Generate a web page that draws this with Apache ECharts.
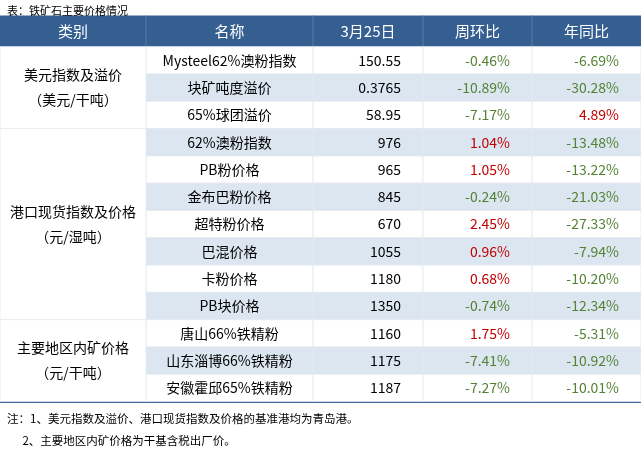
<!DOCTYPE html>
<html><head><meta charset="utf-8">
<script src="https://cdn.jsdelivr.net/npm/echarts@6/dist/echarts.min.js"></script>
<style>html,body{margin:0;padding:0;background:#fff}#main{width:641px;height:451px}</style>
</head><body><div id="main"></div>
<script>
// 表格数据
var headers = ["类别", "名称", "3月25日", "周环比", "年同比"];
var names = ["Mysteel62%澳粉指数", "块矿吨度溢价", "65%球团溢价", "62%澳粉指数", "PB粉价格", "金布巴粉价格",
  "超特粉价格", "巴混价格", "卡粉价格", "PB块价格", "唐山66%铁精粉", "山东淄博66%铁精粉", "安徽霍邱65%铁精粉"];
var prices = ["150.55", "0.3765", "58.95", "976", "965", "845", "670", "1055", "1180", "1350", "1160", "1175", "1187"];
var weekly = [-0.46, -10.89, -7.17, 1.04, 1.05, -0.24, 2.45, 0.96, 0.68, -0.74, 1.75, -7.41, -7.27];
var yearly = [-6.69, -30.28, 4.89, -13.48, -13.22, -21.03, -27.33, -7.94, -10.20, -12.34, -5.31, -10.92, -10.01];
var groups = [
  { label: "美元指数及溢价\n（美元/干吨）", from: 0, to: 2 },
  { label: "港口现货指数及价格\n（元/湿吨）", from: 3, to: 9 },
  { label: "主要地区内矿价格\n（元/干吨）", from: 10, to: 12 }
];
var notes = "注：1、美元指数及溢价、港口现货指数及价格的基准港均为青岛港。\n      2、主要地区内矿价格为干基含税出厂价。";

var colEdges = [0, 146, 313, 423, 532, 641];
var rowIdx = names.map(function (_, i) { return i; });
var FONT = '"Noto Sans CJK SC", "Noto Sans", sans-serif';
var RED = '#c00000', GREEN = '#548235', BLUE = '#355f91', SHADE = '#dce6f1', LINE = '#e3e8ef';

const chart = echarts.init(document.getElementById("main"));

function pct(v) { return v.toFixed(2) + '%'; }

// 每行单元格
var cells = [];
rowIdx.forEach(function (r) {
  cells.push([r, 1, names[r], 'center', '#000']);
  cells.push([r, 2, prices[r], 'right', '#000']);
  cells.push([r, 3, pct(weekly[r]), 'right', weekly[r] > 0 ? RED : GREEN]);
  cells.push([r, 4, pct(yearly[r]), 'right', yearly[r] > 0 ? RED : GREEN]);
});

function renderCell(params, api) {
  var r = api.value(0), c = api.value(1);
  var p0 = api.coord([colEdges[c], r]);
  var p1 = api.coord([colEdges[c + 1], r]);
  var h = api.size([0, 1])[1];
  var y = p0[1] - h / 2;
  var d = cells[params.dataIndex];
  var align = d[3];
  var tx = align === 'center' ? (p0[0] + p1[0]) / 2 : p1[0] - 22;
  return {
    type: 'group',
    children: [
      { type: 'rect', shape: { x: p0[0], y: y, width: p1[0] - p0[0], height: h },
        style: { fill: r % 2 === 1 ? SHADE : '#fff', stroke: LINE, lineWidth: 0.8 } },
      { type: 'text', style: { x: tx, y: p0[1], text: d[2], fill: d[4], font: '14px ' + FONT,
        textAlign: align, textVerticalAlign: 'middle' } }
    ]
  };
}

function renderGroup(params, api) {
  var g = groups[params.dataIndex];
  var a = api.coord([colEdges[0], g.from]);
  var b = api.coord([colEdges[1], g.to]);
  var h = api.size([0, 1])[1];
  var top = a[1] - h / 2, bot = b[1] + h / 2;
  return {
    type: 'group',
    children: [
      { type: 'rect', shape: { x: a[0], y: top, width: b[0] - a[0], height: bot - top },
        style: { fill: '#fff', stroke: LINE, lineWidth: 0.8 } },
      { type: 'text', style: { x: (a[0] + b[0]) / 2, y: (top + bot) / 2, text: g.label, fill: '#000',
        font: '14px ' + FONT, textAlign: 'center', textVerticalAlign: 'middle', lineHeight: 25 } }
    ]
  };
}

var headerEls = [{ type: 'rect', shape: { x: 0, y: 15.5, width: 641, height: 31.2 }, style: { fill: BLUE } }];
headers.forEach(function (t, i) {
  headerEls.push({ type: 'text', style: { x: (colEdges[i] + colEdges[i + 1]) / 2, y: 31, text: t, fill: '#fff',
    font: '15px ' + FONT, textAlign: 'center', textVerticalAlign: 'middle' } });
  if (i > 0) headerEls.push({ type: 'line', shape: { x1: colEdges[i], y1: 15.5, x2: colEdges[i], y2: 46.7 },
    style: { stroke: '#5a7ba5', lineWidth: 1 } });
});
headerEls.push({ type: 'rect', shape: { x: 0, y: 400.5, width: 641, height: 2.5 }, style: { fill: BLUE } });

option = {
  animation: false,
  title: [
    { text: "表：铁矿石主要价格情况", left: 2, top: 0, textStyle: { fontSize: 11, fontWeight: 'normal', color: '#000', fontFamily: FONT } },
    { text: notes, left: 2, top: 403, textStyle: { fontSize: 11.5, fontWeight: 'normal', color: '#000', fontFamily: FONT, lineHeight: 22 } }
  ],
  grid: { left: 0, right: 0, top: 46.7, bottom: 49.4 },
  xAxis: { type: 'value', min: 0, max: 641, show: false },
  yAxis: { type: 'category', data: rowIdx, inverse: true, show: false },
  series: [
    { type: 'custom', renderItem: renderCell, data: cells.map(function (d) { return [d[0], d[1]]; }),
      encode: { x: 1, y: 0 }, z: 1 },
    { type: 'custom', renderItem: renderGroup, data: groups.map(function (g) { return [0, g.from]; }),
      encode: { x: 0, y: 1 }, z: 2 }
  ],
  graphic: headerEls
};
chart.setOption(option);
</script></body></html>
